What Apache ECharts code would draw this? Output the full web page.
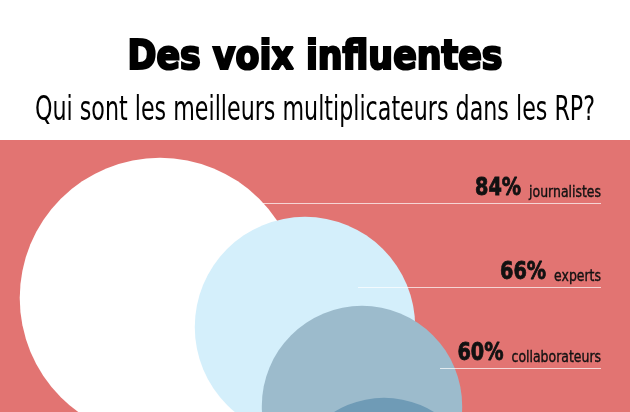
<!DOCTYPE html>
<html><head><meta charset="utf-8">
<script src="https://cdn.jsdelivr.net/npm/echarts@6/dist/echarts.min.js"></script>
<style>html,body{margin:0;padding:0;background:#fff}#c{width:630px;height:412px}</style>
</head><body><div id="c"></div><script>
// ---- data ----
const titleText = 'Des voix influentes';
const subtitleText = 'Qui sont les meilleurs multiplicateurs dans les RP?';
const categories = ['journalistes', 'experts', 'collaborateurs', ''];
const values = [84, 66, 60, 57];

// ---- layout & style ----
const FAMILY = '"DejaVu Sans Condensed", "DejaVu Sans", sans-serif';
const ctx = document.createElement('canvas').getContext('2d');
function measure(text, font) { ctx.font = font; return ctx.measureText(text).width; }

const colors = ['#ffffff', '#d4effb', '#9cbbcc', '#6f9bb6'];
const centers = [[160, 158], [305, 187], [362, 266], [384, 353]];
const R_PER_PCT = 1.67;
const labelRows = [[263, 63], [358, 147], [440, 228]];
const LABEL_RIGHT = 601;
const LABEL_SCALE = 0.84;
const GAP = 8;
const NAME_SIZE = 16.5, PCT_SIZE = 25.5;

const titleScale = 375 / measure(titleText, 'bold 41px ' + FAMILY);
const subScale = 560 / measure(subtitleText, '34px ' + FAMILY);

const chart = echarts.init(document.getElementById('c'));
chart.setOption({
  animation: false,
  backgroundColor: '#ffffff',
  grid: { left: 0, right: 0, top: 140, bottom: 0, show: true, backgroundColor: '#e27472', borderWidth: 0 },
  xAxis: { type: 'value', min: 0, max: 630, show: false },
  yAxis: { type: 'value', min: 0, max: 272, inverse: true, show: false },
  graphic: [
    { type: 'text', x: 315, y: 58, scaleX: titleScale,
      style: { text: titleText, fontSize: 41, fontWeight: 'bold', fontFamily: FAMILY, fill: '#000',
               stroke: '#000', lineWidth: 2.2, align: 'center', verticalAlign: 'middle' } },
    { type: 'text', x: 315, y: 111, scaleX: subScale,
      style: { text: subtitleText, fontSize: 34, fontFamily: FAMILY, fill: '#000', align: 'center', verticalAlign: 'middle' } }
  ],
  series: [
    {
      type: 'custom', clip: true, z: 2,
      data: values.map((v, i) => [centers[i][0], centers[i][1], v]),
      renderItem(params, api) {
        const c = api.coord([api.value(0), api.value(1)]);
        const r = api.size([api.value(2) * R_PER_PCT, 0])[0];
        return { type: 'circle', shape: { cx: c[0], cy: c[1], r: r }, style: { fill: colors[params.dataIndex] } };
      }
    },
    {
      type: 'custom', clip: false, z: 5,
      data: labelRows.map((r, i) => [r[0], r[1], values[i]]),
      renderItem(params, api) {
        const i = params.dataIndex;
        const start = api.coord([api.value(0), api.value(1)]);
        const end = api.coord([LABEL_RIGHT, api.value(1)]);
        const y = Math.round(start[1]) + 0.5;
        const name = categories[i];
        const pct = api.value(2) + '%';
        const nameW = measure(name, NAME_SIZE + 'px ' + FAMILY) * LABEL_SCALE;
        return { type: 'group', children: [
          { type: 'line', shape: { x1: start[0], y1: y, x2: end[0], y2: y }, style: { stroke: 'rgba(255,255,255,0.7)', lineWidth: 1 } },
          { type: 'text', x: end[0], y: y - 2, scaleX: LABEL_SCALE,
            style: { text: name, fontSize: NAME_SIZE, fontFamily: FAMILY, fill: '#111', stroke: '#111', lineWidth: 0.4,
                     align: 'right', verticalAlign: 'bottom' } },
          { type: 'text', x: end[0] - nameW - GAP, y: y - 2, scaleX: LABEL_SCALE,
            style: { text: pct, fontSize: PCT_SIZE, fontWeight: 'bold', fontFamily: FAMILY, fill: '#111', stroke: '#111', lineWidth: 0.8,
                     align: 'right', verticalAlign: 'bottom' } }
        ] };
      }
    }
  ]
});
</script></body></html>
